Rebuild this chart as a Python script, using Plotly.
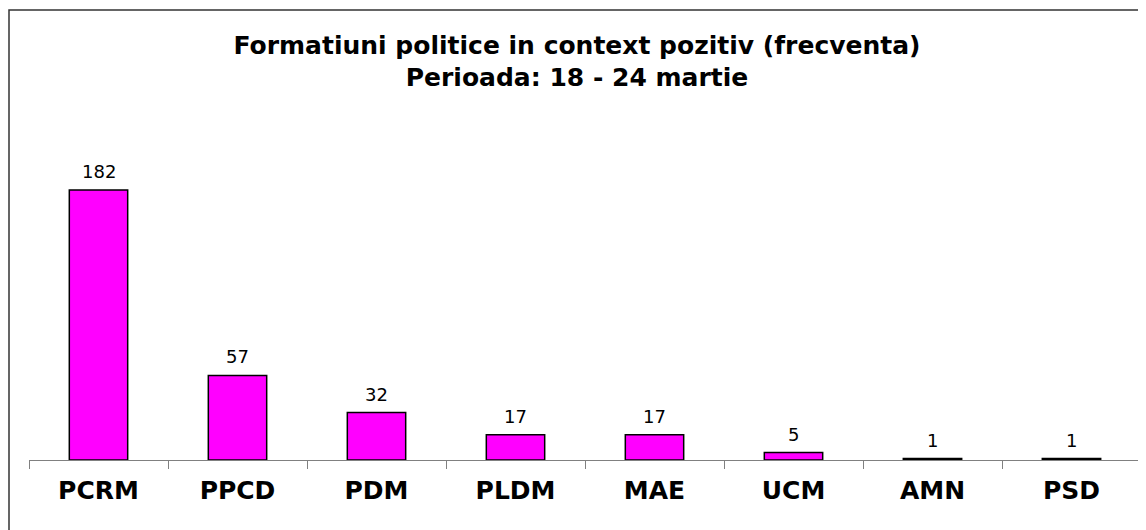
import plotly.graph_objects as go

categories = ["PCRM", "PPCD", "PDM", "PLDM", "MAE", "UCM", "AMN", "PSD"]
values = [182, 57, 32, 17, 17, 5, 1, 1]
title_lines = ["Formatiuni politice in context pozitiv (frecventa)", "Perioada: 18 - 24 martie"]

FONT = "Verdana, DejaVu Sans, sans-serif"

# page body has an 8px margin; figure coordinates = screen - 8
W, H = 1138, 522
L, R, T, B = 21, 5, 155, 70
PW, PH = W - L - R, H - T - B

fig = go.Figure(go.Bar(
    x=categories, y=values, width=0.42,
    marker=dict(color="#FF00FF", line=dict(color="#000000", width=1.5)),
    cliponaxis=False,
))

annotations = [
    dict(x=c, y=v, xref="x", yref="y", text=str(v), showarrow=False,
         xanchor="center", yanchor="bottom", yshift=6,
         font=dict(family=FONT, size=18, color="#000000"))
    for c, v in zip(categories, values)
]

fig.update_layout(
    width=W, height=H,
    margin=dict(l=L, r=R, t=T, b=B),
    paper_bgcolor="white", plot_bgcolor="white",
    showlegend=False,
    annotations=annotations,
    title=dict(text="<b>" + title_lines[0] + "<br>" + title_lines[1] + "</b>",
               x=0.5, xanchor="center", y=1 - 45.5 / H, yanchor="middle",
               font=dict(family=FONT, size=25, color="#000000")),
    shapes=[dict(type="rect", xref="paper", yref="paper",
                 x0=(1 - L) / PW, x1=(W + 20 - L) / PW,
                 y0=-(B + 20) / PH, y1=(PH + T - 2) / PH,
                 line=dict(color="#333333", width=1.5), layer="below")],
)
fig.update_xaxes(
    showline=True, linecolor="#808080", linewidth=1,
    ticks="outside", ticklen=8, tickcolor="#808080", tickson="boundaries",
    tickfont=dict(family=FONT, size=25, color="#000000"),
    ticklabelstandoff=8, showgrid=False,
    tickprefix="<b>", ticksuffix="</b>",
)
fig.update_yaxes(range=[0, PH / 1.4835], visible=False, showgrid=False)

fig.write_html("out.html")
